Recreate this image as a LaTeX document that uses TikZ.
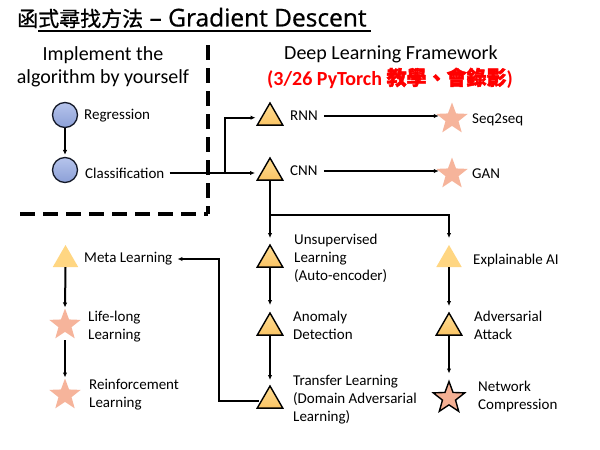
\documentclass[tikz,border=0pt]{standalone}
\usepackage{fontspec}
\setmainfont{Carlito}
\newfontfamily\cjk{Noto Sans CJK TC}[FakeBold=0.8]
\newfontfamily\cjkb{Noto Sans CJK TC}[FakeBold=2.2]
\newfontfamily\titlelat{Open Sans}[FakeBold=0.8]
\usetikzlibrary{shapes.geometric,arrows.meta}
\definecolor{triTop}{RGB}{255,222,150}
\definecolor{triBot}{RGB}{250,196,100}
\definecolor{softTri}{RGB}{255,214,130}
\definecolor{starC}{RGB}{246,180,155}
\definecolor{starD}{RGB}{244,176,148}
\definecolor{dotTop}{RGB}{182,196,236}
\definecolor{dotBot}{RGB}{140,160,215}
\definecolor{dotLine}{RGB}{20,25,40}
\definecolor{redT}{RGB}{255,0,0}
\tikzset{
  lbl/.style={anchor=west, inner sep=0pt, font=\fontsize{15}{18}\selectfont, align=left},
  hd/.style={inner sep=0pt, font=\fontsize{20}{23}\selectfont, align=center},
  tri/.style={regular polygon, regular polygon sides=3, minimum size=29.4pt, inner sep=0pt, outer sep=0pt, draw=black, line width=1.4pt, top color=triTop, bottom color=triBot},
  softtri/.style={regular polygon, regular polygon sides=3, minimum size=29.4pt, inner sep=0pt, outer sep=0pt, fill=softTri},
  softstar/.style={star, star points=5, star point ratio=2.4, minimum size=33pt, inner sep=0pt, outer sep=0pt, fill=starC},
  bstar/.style={star, star points=5, star point ratio=2.4, minimum size=33pt, inner sep=0pt, outer sep=0pt, draw=black, line width=1.4pt, fill=starD},
  dot/.style={circle, minimum size=25pt, inner sep=0pt, draw=dotLine, line width=1.3pt, top color=dotTop, bottom color=dotBot},
  arr/.style={line width=2pt, -{Latex[length=5pt,width=4.5pt]}},
  thinarr/.style={line width=1.3pt, -{Latex[length=5pt,width=4.5pt]}},
  bigdash/.style={line width=4pt, dash pattern=on 15pt off 8pt},
}
\begin{document}
\begin{tikzpicture}[x=1pt,y=-1pt]
\fill[white] (0,0) rectangle (600,450);
\useasboundingbox (0,0) rectangle (600,450);

% title
\node[anchor=west, inner sep=0pt] (title) at (17,18)
  {{\cjk\fontsize{21}{21}\selectfont 函式尋找方法}\titlelat\fontsize{24.5}{24.5}\selectfont\ – Gradient Descent};
\draw[line width=1.8pt] (38,31) -- (371,31);

% headings
\node[hd] (impl) at (103,67) {Implement the\\algorithm by yourself};
\node[hd] (dlf) at (391,54) {Deep Learning Framework};
\node[inner sep=0pt, text=redT, font=\fontsize{20}{23}\selectfont\bfseries] (pyt) at (390,78)
  {(3/26 PyTorch {\cjkb 教學、會錄影})};

% dashed separators
\draw[bigdash] (208,45) -- (208,214);
\draw[bigdash] (20,214) -- (208,214);

% circles
\node[dot] (reg) at (65,115) {};
\node[dot] (cls) at (65,170) {};
\node[lbl] (reglbl) at (84,116) {Regression};
\node[lbl] (clslbl) at (85,173) {Classification};

% triangles
\node[tri] (rnn) at (270,117.7) {};
\node[tri] (cnn) at (270,172.7) {};
\node[tri] (unsup) at (270,259.7) {};
\node[tri] (anom) at (270,327.7) {};
\node[tri] (trans) at (270,400.7) {};
\node[softtri] (expl) at (449,259.7) {};
\node[tri] (adv) at (449,327.7) {};
\node[softtri] (meta) at (65.5,259.7) {};

% stars
\node[softstar] (seq) at (452,119) {};
\node[softstar] (gan) at (452,174) {};
\node[bstar] (net) at (449,398) {};
\node[softstar] (ll) at (65,325) {};
\node[softstar] (rl) at (65,395) {};

% labels
\node[lbl] (rnnlbl) at (290,116) {RNN};
\node[lbl] (cnnlbl) at (290,171) {CNN};
\node[lbl] (seqlbl) at (472,120) {Seq2seq};
\node[lbl] (ganlbl) at (472,174) {GAN};
\node[lbl] (unsuplbl) at (294,258) {Unsupervised\\Learning\\(Auto-encoder)};
\node[lbl] (anomlbl) at (293,325) {Anomaly\\Detection};
\node[lbl] (translbl) at (293,400) {Transfer Learning\\(Domain Adversarial\\Learning)};
\node[lbl] (expllbl) at (473,260) {Explainable AI};
\node[lbl] (advlbl) at (474,325) {Adversarial\\Attack};
\node[lbl] (netlbl) at (478,396) {Network\\Compression};
\node[lbl] (metalbl) at (84,259) {Meta Learning};
\node[lbl] (lllbl) at (88,327) {Life-long\\Learning};
\node[lbl] (rllbl) at (89,395) {Reinforcement\\Learning};

% connectors
\draw[arr, shorten >=2pt] (reg) -- (cls);
\draw[thinarr, shorten <=5pt, shorten >=6.5pt] (clslbl.east) -- (clslbl.east -| cnn.west);
\coordinate (split) at (225,173);
\draw[arr, shorten >=6pt] (split) |- (rnn.west);
\draw[arr, shorten <=6pt, shorten >=4pt] (rnnlbl.east) -- (rnnlbl.east -| seq.west);
\draw[arr, shorten <=6pt, shorten >=4pt] (cnnlbl.east) -- (cnnlbl.east -| gan.west);
\coordinate (br) at (270,215);
\draw[arr, shorten >=7pt] (cnn.south) -- (br) -| (expl.north);
\draw[arr, shorten >=7pt] (br) -- (unsup.north);
\draw[arr, shorten >=8pt] (unsup.south) -- (anom.north);
\draw[arr, shorten >=6pt] (anom.south) -- (trans.north);
\draw[arr, shorten >=7pt] (expl.south) -- (adv.north);
\draw[arr, shorten >=8pt] (adv.south) -- (net.north);
\coordinate (tm) at (219,259);
\draw[arr, shorten <=3pt, shorten >=5pt] (trans.west) -| (tm) -- (metalbl.east);
\draw[arr, shorten >=1pt] (meta.south) -- (ll.north);
\draw[arr, shorten <=15pt, shorten >=1pt] (ll.center) -- (rl.north);
\end{tikzpicture}
\end{document}
